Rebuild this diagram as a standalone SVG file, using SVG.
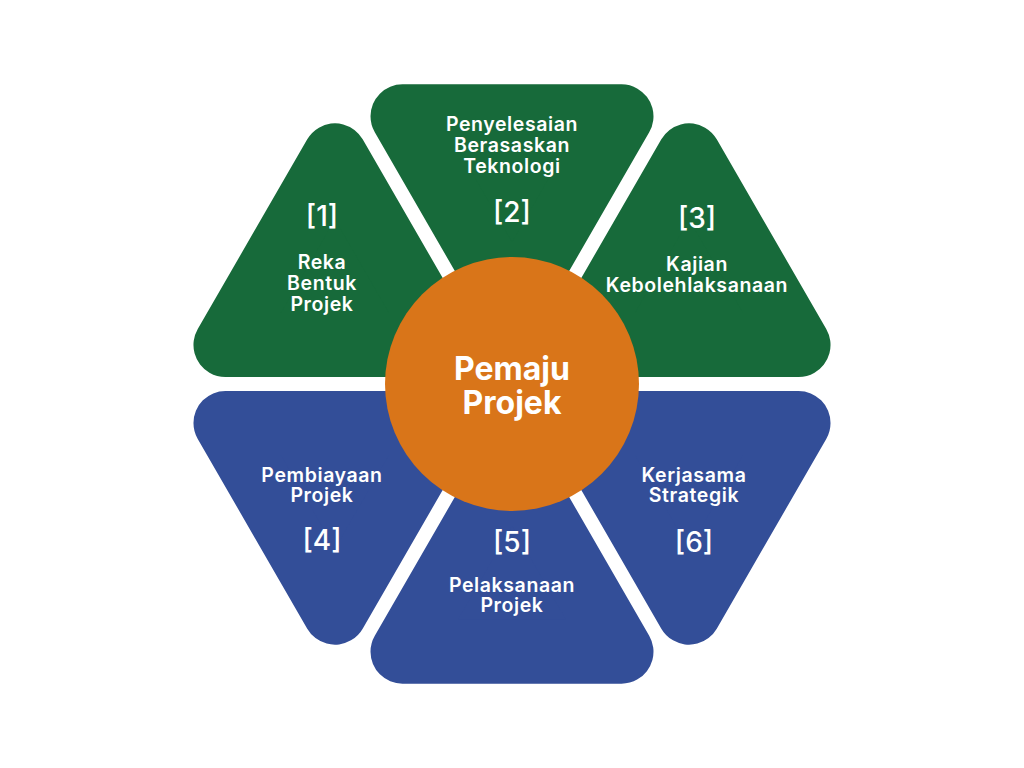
<svg xmlns="http://www.w3.org/2000/svg" width="1024" height="768" viewBox="0 0 1024 768">
<style>
.g{fill:#176a3a;stroke:#176a3a;stroke-width:64;stroke-linejoin:round}
.b{fill:#334e98;stroke:#334e98;stroke-width:64;stroke-linejoin:round}
.t{font-family:Inter,"Liberation Sans",sans-serif;font-weight:600;font-size:19.5px;fill:#ffffff;text-anchor:middle;letter-spacing:0.6px}
.n{font-family:Inter,"Liberation Sans",sans-serif;font-weight:500;font-size:28px;fill:#ffffff;text-anchor:middle}
.c{font-family:Inter,"Liberation Sans",sans-serif;font-weight:700;font-size:32px;fill:#ffffff;text-anchor:middle}
</style>
<rect width="1024" height="768" fill="#ffffff"/>
<g id="node1">
<polygon class="g" points="444.45,345 334.96,155.35 225.47,345"/>
<text class="n" x="322" y="226">[1]</text>
<text class="t" x="322" y="269">Reka</text>
<text class="t" x="322" y="290">Bentuk</text>
<text class="t" x="322" y="311">Projek</text>
</g>
<g id="node2">
<polygon class="g" points="512,306 621.49,116.35 402.51,116.35"/>
<text class="t" x="512" y="131">Penyelesaian</text>
<text class="t" x="512" y="152">Berasaskan</text>
<text class="t" x="512" y="173">Teknologi</text>
<text class="n" x="512" y="222">[2]</text>
</g>
<g id="node3">
<polygon class="g" points="579.55,345 689.04,155.35 798.53,345"/>
<text class="n" x="697" y="228">[3]</text>
<text class="t" x="697" y="271">Kajian</text>
<text class="t" x="697" y="292">Kebolehlaksanaan</text>
</g>
<g id="node4">
<polygon class="b" points="444.45,423 225.47,423 334.96,612.65"/>
<text class="t" x="322" y="482">Pembiayaan</text>
<text class="t" x="322" y="502">Projek</text>
<text class="n" x="322" y="550">[4]</text>
</g>
<g id="node5">
<polygon class="b" points="512,462 621.49,651.65 402.51,651.65"/>
<text class="n" x="512" y="552">[5]</text>
<text class="t" x="512" y="592">Pelaksanaan</text>
<text class="t" x="512" y="612">Projek</text>
</g>
<g id="node6">
<polygon class="b" points="579.55,423 798.53,423 689.04,612.65"/>
<text class="t" x="694" y="482">Kerjasama</text>
<text class="t" x="694" y="502">Strategik</text>
<text class="n" x="694" y="552">[6]</text>
</g>
<g id="center">
<circle cx="512" cy="384" r="127" fill="#d97519"/>
<text class="c" x="512" y="380">Pemaju</text>
<text class="c" x="512" y="414">Projek</text>
</g>
<g id="connectors"></g>
</svg>
